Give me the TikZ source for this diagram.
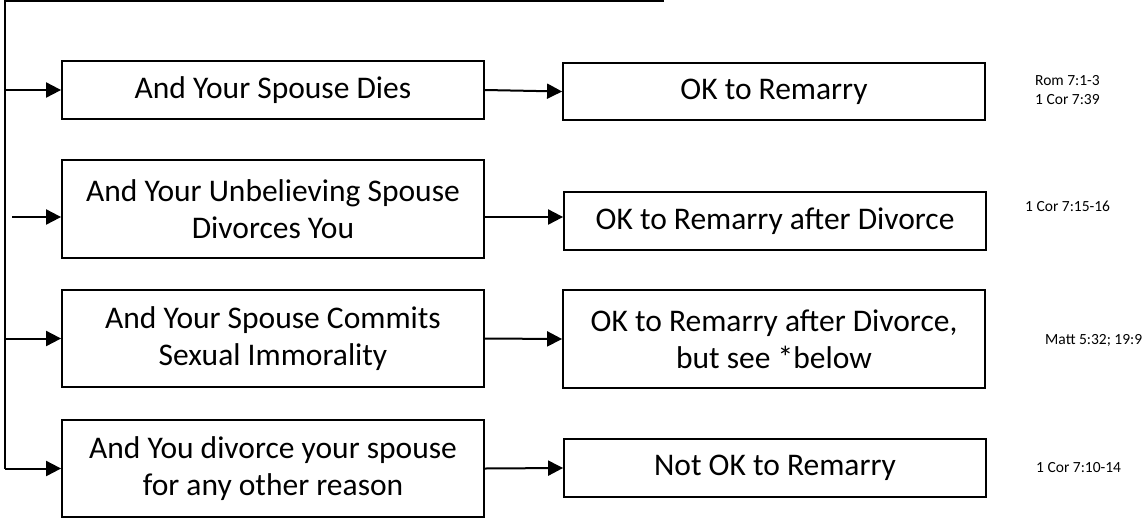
\documentclass[tikz,border=0pt]{standalone}
\usepackage{fontspec}
\setmainfont{Carlito}
\usetikzlibrary{arrows.meta}
\begin{document}
\begin{tikzpicture}[x=1pt,y=-1pt,
 box/.style={draw, line width=1.8pt, align=center, font=\fontsize{31.5}{37}\selectfont, inner sep=0pt, minimum width=422pt},
 refs/.style={font=\fontsize{15.5}{18.5}\selectfont, anchor=west, align=left, inner sep=0pt},
 arr/.style={line width=2pt, -{Triangle[length=15pt,width=15pt]}},
 bus/.style={line width=2.2pt}]
\useasboundingbox (0,0) rectangle (1143,520);
% left column
\node[box, minimum height=58pt] (A1) at (273,90) {And Your Spouse Dies};
\node[box, minimum height=98pt] (A2) at (273,209) {And Your Unbelieving Spouse\\Divorces You};
\node[box, minimum height=97pt] (A3) at (273,338.5) {And Your Spouse Commits\\Sexual Immorality};
\node[box, minimum height=97pt] (A4) at (273,468.5) {And You divorce your spouse\\for any other reason};
% right column
\node[box, minimum height=57pt] (B1) at (774,91.5) {OK to Remarry};
\node[box, minimum height=58pt] (B2) at (775,221) {OK to Remarry after Divorce};
\node[box, minimum height=98pt] (B3) at (774,339) {OK to Remarry after Divorce,\\but see *below};
\node[box, minimum height=58pt] (B4) at (775,468) {Not OK to Remarry};
% references
\node[refs] (R1) at (1035,90) {Rom 7:1-3\\1 Cor 7:39};
\node[refs] (R2) at (1025,206) {1 Cor 7:15-16};
\node[refs] (R3) at (1045,340) {Matt 5:32; 19:9};
\node[refs] (R4) at (1036,468) {1 Cor 7:10-14};
% bus
\coordinate (tr) at (663,-3);
\coordinate (tl) at (5,1);
\coordinate (a2in) at (12,217);
\draw[bus] (tr) |- (tl) -- (tl |- A4.west);
\draw[arr] (tl |- A4.west) -- (A4.west);
\draw[arr] (tl |- A1.west) -- (A1.west);
\draw[arr] (a2in) -- (A2.west |- a2in);
\draw[arr] (tl |- A3.west) -- (A3.west);
% outputs
\draw[arr] (A1.east) -- (B1.west);
\draw[arr] (A2.east |- a2in) -- (B2.west |- a2in);
\draw[arr] (A3.east) -- (B3.west);
\draw[arr] (A4.east) -- (B4.west);
\end{tikzpicture}
\end{document}
